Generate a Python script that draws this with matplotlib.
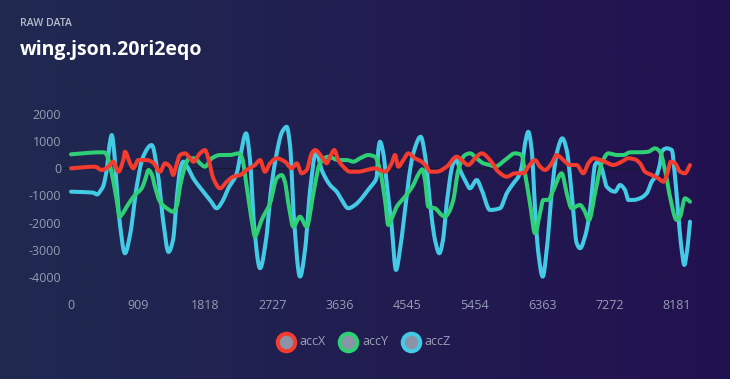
import numpy as np
import matplotlib
matplotlib.use("Agg")
import matplotlib.pyplot as plt
from matplotlib.lines import Line2D

# ---------------- data ----------------
x_ticks = [0, 909, 1818, 2727, 3636, 4545, 5454, 6363, 7272, 8181]
y_ticks = [-4000, -3000, -2000, -1000, 0, 1000, 2000]
series_names = ["accX", "accY", "accZ"]

accX_t = [0, 324, 415, 504, 571, 639, 706, 729, 797, 841, 909, 1022, 1112, 1202, 1270,
          1337, 1382, 1405, 1472, 1540, 1607, 1652, 1742, 1810, 1854, 1922, 2013, 2103,
          2192, 2283, 2373, 2485, 2553, 2620, 2688, 2778, 2890, 2981, 3048, 3116, 3183,
          3251, 3296, 3386, 3453, 3498, 3556, 3610, 3678, 3768, 3880, 3994, 4106, 4241,
          4331, 4376, 4420, 4488, 4556, 4646, 4737, 4804, 4849, 4939, 5074, 5209, 5299,
          5366, 5457, 5547, 5659, 5771, 5885, 5997, 6109, 6176, 6267, 6334, 6402, 6492,
          6560, 6649, 6740, 6830, 6919, 6987, 7054, 7122, 7212, 7324, 7438, 7527, 7617,
          7685, 7752, 7843, 7932, 8000, 8054, 8100, 8158, 8225, 8292, 8360]
accX_v = [0, 59, -62, 59, 243, -125, 305, 610, 184, 0, 305, 305, 206, -125, 184,
          59, -246, -62, 489, 551, 368, 243, 551, 673, 368, -368, -735, -493,
          -309, -246, -62, 121, 305, -125, 184, 368, 243, 0, 184, -184, -62,
          551, 673, 426, 184, 426, 673, 305, 59, -125, -125, -62, 0, -125,
          184, 489, 59, 305, 551, 368, 243, 59, -125, -125, 59, 426, 243,
          121, 368, 551, 305, -125, -309, -184, -184, 59, 305, 59, -62, 184,
          489, 305, 121, 121, -184, 184, 368, 331, 243, 121, 243, 368, 331,
          184, -125, -246, -368, -493, -184, 243, 184, -125, -184, 121]

accY_t = [0, 392, 459, 500, 550, 617, 655, 702, 752, 864, 955, 1000, 1047, 1094, 1134,
          1202, 1293, 1378, 1432, 1472, 1540, 1594, 1675, 1742, 1810, 1900, 2013, 2147,
          2260, 2305, 2373, 2440, 2485, 2526, 2575, 2688, 2778, 2846, 2890, 2935, 3003,
          3093, 3183, 3273, 3363, 3475, 3610, 3724, 3813, 3903, 4015, 4106, 4173, 4241,
          4285, 4335, 4399, 4511, 4623, 4686, 4745, 4781, 4826, 4916, 5007, 5051, 5105,
          5163, 5231, 5321, 5389, 5479, 5569, 5659, 5727, 5862, 5997, 6087, 6132, 6199,
          6267, 6334, 6379, 6447, 6514, 6627, 6695, 6762, 6875, 6929, 6996, 7077, 7167,
          7257, 7370, 7460, 7550, 7685, 7797, 7887, 7955, 8022, 8090, 8180, 8225, 8292,
          8360]
accY_v = [515, 588, 580, 379, -184, -1165, -1779, -1643, -1412, -981, -735, -430, -62, -246, -676,
          -1228, -1470, -1595, -1349, -676, 59, 368, 368, 184, 59, 368, 489, 489,
          551, 426, -676, -1900, -2514, -2271, -1900, -1287, -368, -246, -504, -1287, -2147,
          -1779, -2147, -919, 184, 426, 305, 305, 243, 368, 489, 426, -62, -1165,
          -2084, -1827, -1412, -1044, -614, -246, -37, -430, -1412, -1470, -1717, -1779, -1606,
          -1165, -62, 489, 551, 368, 184, 121, 59, 305, 551, 489, -184, -1287,
          -2389, -1654, -1165, -1165, -798, -184, -919, -1470, -1349, -1533, -1900, -919, 184,
          551, 489, 489, 588, 588, 610, 735, 610, -62, -1044, -1900, -1779, -1103,
          -1228]

accZ_t = [0, 301, 351, 405, 432, 482, 520, 550, 581, 617, 662, 729, 797, 887, 972,
          1090, 1175, 1243, 1317, 1378, 1432, 1472, 1517, 1580, 1652, 1787, 1877, 1968,
          2040, 2125, 2238, 2289, 2364, 2418, 2472, 2553, 2634, 2701, 2778, 2850, 2913,
          2958, 3012, 3093, 3161, 3229, 3310, 3386, 3498, 3589, 3656, 3745, 3836, 3926,
          4011, 4079, 4129, 4150, 4173, 4218, 4264, 4331, 4389, 4443, 4511, 4579, 4623,
          4723, 4781, 4849, 4916, 4974, 5024, 5074, 5163, 5207, 5254, 5321, 5389, 5479,
          5547, 5659, 5794, 5885, 5975, 6042, 6087, 6132, 6176, 6222, 6267, 6312, 6371,
          6425, 6492, 6560, 6636, 6695, 6762, 6830, 6875, 6942, 7010, 7054, 7077, 7122,
          7167, 7235, 7347, 7415, 7482, 7527, 7594, 7685, 7775, 7843, 7910, 7955, 7978,
          8045, 8113, 8158, 8203, 8248, 8283, 8316, 8360]
accZ_v = [-860, -897, -963, -798, -676, -62, 856, 1224, 673, -676, -2084, -3125, -2455, -676, 415,
          856, -246, -1900, -3077, -2635, -981, -62, 243, 11, -368, -860, -1165, -1470,
          -1239, -735, -184, 489, 1287, 305, -2084, -3676, -2635, -798, 551, 1334, 1529,
          856, -1900, -3985, -3003, -798, 599, -62, -614, -860, -1165, -1470, -1349, -1103,
          -798, -577, -309, 673, 978, 551, -551, -2147, -3738, -3003, -1533, -62, 551,
          1162, 489, -1287, -2635, -3125, -2635, -1287, 184, 305, -62, -430, -735, -430,
          -798, -1533, -1470, -919, -551, -309, 59, 919, 1345, 673, -1533, -3125, -3985,
          -3003, -919, 551, 1103, 673, -919, -2757, -2941, -2514, -1533, -309, 121, 243,
          0, -676, -860, -614, -798, -1165, -1165, -1103, -919, -493, -246, 184, 610,
          735, 673, -309, -1779, -3003, -3555, -3125, -1963]

series_t = [accX_t, accY_t, accZ_t]
series_v = [accX_v, accY_v, accZ_v]
series_colors = ["#f33b2e", "#2fd075", "#43cbe6"]


def monotone_curve(x, y, n=14):
    """Monotone cubic (Fritsch-Carlson) rendering of a polyline, like a
    'monotone' tension line."""
    x = np.asarray(x, float)
    y = np.asarray(y, float)
    h = np.diff(x)
    d = np.diff(y) / h
    m = np.zeros_like(y)
    m[0], m[-1] = d[0], d[-1]
    for k in range(1, len(x) - 1):
        if d[k - 1] * d[k] > 0:
            w1 = 2 * h[k] + h[k - 1]
            w2 = h[k] + 2 * h[k - 1]
            m[k] = (w1 + w2) / (w1 / d[k - 1] + w2 / d[k])
    xs, ys = [], []
    t = np.linspace(0, 1, n, endpoint=False)
    h00 = 2 * t**3 - 3 * t**2 + 1
    h10 = t**3 - 2 * t**2 + t
    h01 = -2 * t**3 + 3 * t**2
    h11 = t**3 - t**2
    for k in range(len(x) - 1):
        xs.append(x[k] + t * h[k])
        ys.append(h00 * y[k] + h10 * h[k] * m[k] + h01 * y[k + 1] + h11 * h[k] * m[k + 1])
    xs.append([x[-1]])
    ys.append([y[-1]])
    return np.concatenate(xs), np.concatenate(ys)


plt.rcParams["font.family"] = ["Open Sans", "DejaVu Sans"]

W, H = 730, 379
fig = plt.figure(figsize=(W / 100, H / 100), dpi=100)

# background gradient
bg = fig.add_axes([0, 0, 1, 1], zorder=-10)
bg.axis("off")
c0 = np.array([31, 42, 80]) / 255
c1 = np.array([35, 17, 80]) / 255
gx = np.linspace(0, 1, 256)[None, :, None]
gy = np.linspace(0, 1, 2)[:, None, None]
img = c0 * (1 - gx) + c1 * gx + 0 * gy
bg.imshow(img, extent=[0, 1, 0, 1], aspect="auto", origin="lower")
bg.set_xlim(0, 1)
bg.set_ylim(0, 1)

# main axes
ax_left, ax_right = 71, 690
ax_top, ax_bottom = 108.5, 282.5
ax = fig.add_axes([ax_left / W, 1 - ax_bottom / H, (ax_right - ax_left) / W,
                   (ax_bottom - ax_top) / H])
ax.set_facecolor("none")
ax.set_xlim(0, 8360)
ax.set_ylim(-4200, 2200)
for s in ax.spines.values():
    s.set_visible(False)

ax.set_xticks(x_ticks)
ax.set_xticklabels([str(v) for v in x_ticks])
ax.set_yticks(y_ticks)
ax.set_yticklabels([str(v) for v in y_ticks])
ax.tick_params(axis="both", length=0, colors="#959cb3", labelsize=9)
ax.tick_params(axis="y", pad=7)
ax.tick_params(axis="x", pad=12)

ax.axhline(0, xmin=-0.013, xmax=1, color="#151a35", lw=0.9, zorder=1, clip_on=False)

for t, v, c, z in zip(series_t[::-1], series_v[::-1], series_colors[::-1], [2, 3, 4]):
    xs, ys = monotone_curve(t, v)
    ax.plot(xs, ys, color=c, lw=2.9, solid_capstyle="round", solid_joinstyle="round",
            zorder=z, clip_on=False)

# titles
fig.text(20.5 / W, 1 - 26 / H, "RAW DATA", fontsize=7.6, fontweight="semibold",
         color="#b8bccb", va="baseline", ha="left")
fig.text(20 / W, 1 - 55.5 / H, "wing.json.20ri2eqo", fontsize=14, fontweight="bold",
         color="white", va="baseline", ha="left")

# legend
leg_cx = [285.7, 348.3, 411.0]
leg_y = 341.7
for cx, name, col in zip(leg_cx, series_names, series_colors):
    fig.add_artist(Line2D([cx / W], [1 - leg_y / H], transform=fig.transFigure,
                          marker="o", markersize=12.6, markerfacecolor="#8c93a8",
                          markeredgecolor=col, markeredgewidth=2.9, ls="none"))
    fig.text((cx + 13.6) / W, 1 - leg_y / H, name, fontsize=9, color="#9aa1b8",
             va="center", ha="left")

fig.savefig("out.png", dpi=100)
